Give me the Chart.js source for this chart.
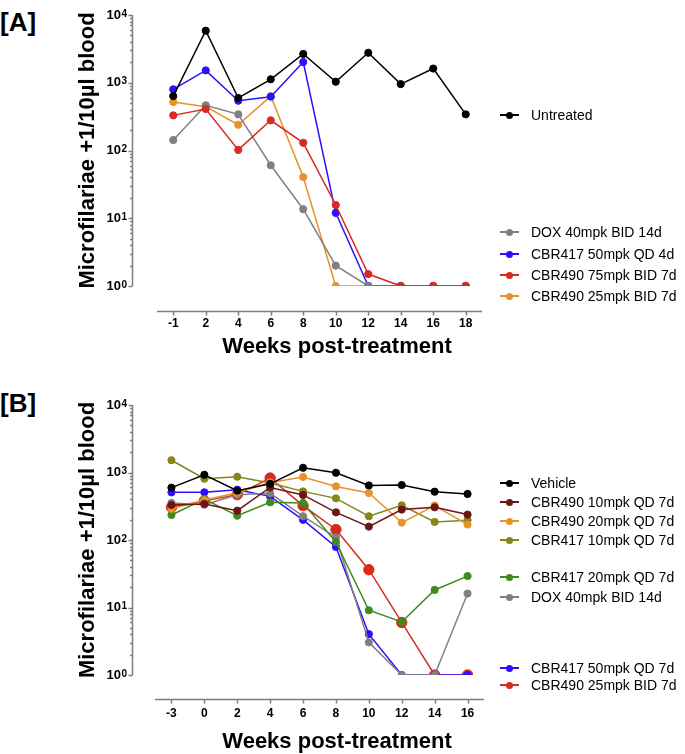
<!DOCTYPE html>
<html>
<head>
<meta charset="utf-8">
<script src="https://cdn.jsdelivr.net/npm/chart.js@4.4.1/dist/chart.umd.min.js"></script>
<style>
  html, body { margin: 0; padding: 0; background: #fff; }
  body { width: 685px; height: 754px; position: relative; overflow: hidden; font-family: 'Liberation Sans', Arial, sans-serif; }
  .box { position: absolute; left: 0; }
  .panel { position: absolute; left: 0; font-weight: bold; font-size: 26px; line-height: 26px; color: #000; }
  .lg { position: absolute; left: 500px; height: 18px; line-height: 18px; font-size: 14px; color: #000; white-space: nowrap; }
  .lg .ln { position: absolute; left: 0; top: 8px; width: 19px; height: 2px; }
  .lg .dt { position: absolute; left: 6px; top: 5.5px; width: 7px; height: 7px; border-radius: 50%; }
  .lg .tx { position: absolute; left: 31px; top: 0; }
</style>
</head>
<body>
<div class="panel" style="top:9px">[A]</div>
<div class="panel" style="top:390px">[B]</div>
<div class="box" style="top:0"><canvas id="chartA" width="674" height="375"></canvas></div>
<div class="box" style="top:380px"><canvas id="chartB" width="674" height="374"></canvas></div>
<div id="legendA"></div>
<div id="legendB"></div>
<script>
// ---------- Data ----------
const weeksA = ['-1', '2', '4', '6', '8', '10', '12', '14', '16', '18'];
const untreatedA = [635, 5860, 596, 1125, 2660, 1036, 2770, 955, 1620, 342];
const dox40A = [143, 465, 342, 60.6, 13.6, 2.0, 1, 1, 1, 1];
const cbr417_50A = [800, 1520, 543, 623, 2020, 12, 1, 1, 1, 1];
const cbr490_75A = [330, 410, 102, 279, 130, 15.7, 1.5, 1, 1, 1];
const cbr490_25A = [520, 443, 240, 635, 40.6, 1, 1, 1, 1, 1];

const weeksB = ['-3', '0', '2', '4', '6', '8', '10', '12', '14', '16'];
const vehicleB = [596, 926, 537, 680, 1175, 991, 643, 653, 520, 481];
const cbr490_10B = [330, 342, 272, 600, 465, 257, 158, 282, 305, 238];
const cbr490_20B = [290, 390, 500, 713, 857, 622, 497, 181, 323, 169];
const cbr417_10B = [1520, 809, 865, 699, 525, 414, 225, 326, 185, 196];
const cbr417_20B = [235, 405, 229, 361, 354, 93, 9.1, 6.1, 18.2, 29.2];
const dox40B = [354, 334, 468, 491, 225, 109, 3.04, 1, 1, 16.1];
const cbr417_50B = [508, 508, 556, 443, 199, 79, 4.03, 1, 1, 1];
const cbr490_25B = [305, 380, 470, 828, 323, 143, 36.3, 6.0, 1, 1];

const yTickValues = [1, 10, 100, 1000, 10000];
const yTitle = 'Microfilariae +1/10µl blood';
const xTitle = 'Weeks post-treatment';

// ---------- Styling ----------
const FONT = "'Liberation Sans', Arial, sans-serif";
Chart.defaults.font.family = FONT;
Chart.defaults.color = '#000';

const C = {
  black: '#000000', gray: '#808080', blue: '#2a10ff', red: '#d62b1f',
  orange: '#e8922b', maroon: '#6e1515', olive: '#858619', green: '#3f8a1d'
};

// draws the offset (detached) axis lines, minor ticks and the decade exponents
const offsetAxes = {
  id: 'offsetAxes',
  afterDraw(chart, args, opts) {
    const { ctx, chartArea: ca, scales: { x, y } } = chart;
    ctx.save();
    ctx.strokeStyle = opts.color;
    ctx.lineWidth = opts.width;
    const ax = Math.round(ca.left - opts.gapY) + 0.5;
    ctx.beginPath();
    ctx.moveTo(ax, y.getPixelForValue(y.max));
    ctx.lineTo(ax, y.getPixelForValue(y.min));
    for (let e = 0; e <= 4; e++) {
      for (let m = 1; m <= 9; m++) {
        const v = m * Math.pow(10, e);
        if (v > y.max + 1e-9) break;
        const py = Math.round(y.getPixelForValue(v)) + 0.5;
        const len = m === 1 ? 4 : 2.5;
        ctx.moveTo(ax - len, py);
        ctx.lineTo(ax, py);
      }
    }
    ctx.stroke();
    const ay = Math.round(ca.bottom + opts.gapX) + 0.5;
    ctx.beginPath();
    ctx.moveTo(ca.left, ay);
    ctx.lineTo(ca.right, ay);
    x.ticks.forEach((t, i) => {
      const px = Math.round(x.getPixelForTick(i)) + 0.5;
      ctx.moveTo(px, ay);
      ctx.lineTo(px, ay + 4);
    });
    ctx.stroke();
    // exponents of the "10" tick labels
    ctx.fillStyle = '#000';
    ctx.font = 'bold 10px ' + FONT;
    ctx.textAlign = 'left';
    ctx.textBaseline = 'alphabetic';
    const sx = ca.left - opts.yPad + 0.5;
    y.ticks.forEach(t => {
      const py = y.getPixelForValue(t.value);
      ctx.fillText(String(Math.round(Math.log10(t.value))), sx, py + 1.5);
    });
    ctx.restore();
  }
};

function ds(label, data, color, order, radius) {
  return {
    label, data, order,
    borderColor: color, backgroundColor: color,
    pointBackgroundColor: color, pointBorderColor: color,
    borderWidth: 1.5, pointRadius: radius || 3.6, pointBorderWidth: 1,
    tension: 0, fill: false
  };
}

function makeChart(id, labels, datasets, g) {
  return new Chart(document.getElementById(id), {
    type: 'line',
    data: { labels, datasets },
    plugins: [offsetAxes],
    options: {
      responsive: false,
      animation: false,
      layout: { padding: { top: g.top, left: 0, right: 0, bottom: 0 } },
      plugins: {
        legend: { display: false },
        tooltip: { enabled: false },
        title: {
          display: true, position: 'bottom', text: xTitle, color: '#000',
          font: { size: 22, weight: 'bold', lineHeight: 1 },
          padding: { top: 0, bottom: g.titleBottom }
        },
        offsetAxes: { color: '#7d7d7d', width: 1.5, gapX: g.gapX, gapY: g.gapY, yPad: g.yPad }
      },
      scales: {
        x: {
          type: 'category', offset: true,
          grid: { display: false, drawTicks: false },
          border: { display: false },
          ticks: { font: { size: 12, weight: 'bold' }, color: '#000', padding: g.xPad, maxRotation: 0, autoSkip: false },
          afterFit: s => { s.height = g.xHeight; }
        },
        y: {
          type: 'logarithmic', min: 1, max: 10000, position: 'left',
          grid: { display: false, drawTicks: false },
          border: { display: false },
          afterBuildTicks: s => { s.ticks = yTickValues.map(v => ({ value: v })); },
          ticks: {
            font: { size: 13, weight: 'bold' }, color: '#000', padding: g.yPad,
            callback: v => '10'
          },
          title: {
            display: true, text: yTitle, color: '#000',
            font: { size: 22, weight: 'bold' }, padding: { top: 75, bottom: 0 }
          },
          afterFit: s => { s.width = g.yWidth; s.paddingTop = 0; s.paddingBottom = 0; }
        },
        yr: {
          type: 'linear', position: 'right', display: true,
          grid: { display: false, drawTicks: false }, border: { display: false },
          ticks: { display: false }, title: { display: false },
          afterFit: s => { s.width = g.rWidth; s.paddingTop = 0; s.paddingBottom = 0; }
        }
      }
    }
  });
}

const labelsA = ['Untreated', 'DOX 40mpk BID 14d', 'CBR417 50mpk QD 4d', 'CBR490 75mpk BID 7d', 'CBR490 25mpk BID 7d'];
const colorsA = [C.black, C.gray, C.blue, C.red, C.orange];
makeChart('chartA', weeksA, [
  ds(labelsA[0], untreatedA, colorsA[0], 0),
  ds(labelsA[1], dox40A, colorsA[1], 2),
  ds(labelsA[2], cbr417_50A, colorsA[2], 3),
  ds(labelsA[3], cbr490_75A, colorsA[3], 1),
  ds(labelsA[4], cbr490_25A, colorsA[4], 4)
], { top: 15, titleBottom: 17, xHeight: 50, xPad: 30, yWidth: 157, yPad: 36, rWidth: 192, gapX: 25, gapY: 25 });

const labelsB = ['Vehicle', 'CBR490 10mpk QD 7d', 'CBR490 20mpk QD 7d', 'CBR417 10mpk QD 7d', 'CBR417 20mpk QD 7d', 'DOX 40mpk BID 14d', 'CBR417 50mpk QD 7d', 'CBR490 25mpk BID 7d'];
const colorsB = [C.black, C.maroon, C.orange, C.olive, C.green, C.gray, C.blue, C.red];
makeChart('chartB', weeksB, [
  ds(labelsB[0], vehicleB, colorsB[0], 0),
  ds(labelsB[1], cbr490_10B, colorsB[1], 1),
  ds(labelsB[2], cbr490_20B, colorsB[2], 2),
  ds(labelsB[3], cbr417_10B, colorsB[3], 3),
  ds(labelsB[4], cbr417_20B, colorsB[4], 4),
  ds(labelsB[5], dox40B, colorsB[5], 5),
  ds(labelsB[6], cbr417_50B, colorsB[6], 6),
  ds(labelsB[7], cbr490_25B, colorsB[7], 7, 5.2)
], { top: 25, titleBottom: 1, xHeight: 56, xPad: 31, yWidth: 155, yPad: 34, rWidth: 190, gapX: 24, gapY: 23 });

// ---------- HTML legends ----------
function buildLegend(elId, labels, colors, centers) {
  const el = document.getElementById(elId);
  labels.forEach((t, i) => {
    const d = document.createElement('div');
    d.className = 'lg';
    d.style.top = (centers[i] - 9) + 'px';
    d.innerHTML = '<span class="ln" style="background:' + colors[i] + '"></span>' +
      '<span class="dt" style="background:' + colors[i] + '"></span>' +
      '<span class="tx"></span>';
    d.querySelector('.tx').textContent = t;
    el.appendChild(d);
  });
}
buildLegend('legendA', labelsA, colorsA, [115, 232, 254, 275, 296]);
buildLegend('legendB', labelsB, colorsB, [483, 502, 521, 540, 577, 597, 668, 685]);
</script>
</body>
</html>
